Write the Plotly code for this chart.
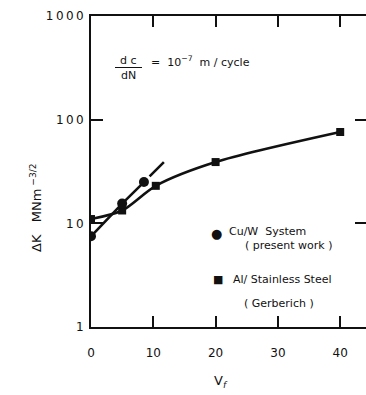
import plotly.graph_objects as go

# ---- data ----
cu_vf = [0, 5, 8.5]
cu_dk = [7.5, 15.5, 25]
cu_ext_vf = [8.5, 11.7]
cu_ext_dk = [25, 39]
al_vf = [0, 5, 10.4, 20, 40]
al_dk = [11, 13.3, 23, 39, 76]

x_tickvals = [0, 10, 20, 30, 40]
x_ticktext = ["0", "10", "20", "30", "40"]
y_tickvals = [1, 10, 100, 1000]
y_ticktext = ["1", "1\u20090", "1\u20090\u20090", "1\u20090\u20090\u20090"]

# ---- layout geometry (pixels) ----
W, H = 366, 395
PL, PT, PR, PB = 91, 16, 366, 327

def px(xp):
    return (xp - PL) / (PR - PL)

def py(yp):
    return (PB - yp) / (PB - PT)

FONT = "DejaVu Sans"
BLACK = "#111111"

fig = go.Figure()

fig.add_trace(go.Scatter(
    x=al_vf, y=al_dk, mode="lines+markers",
    line=dict(color=BLACK, width=2.6, shape="spline", smoothing=0.8),
    marker=dict(symbol="square", size=8, color=BLACK),
    showlegend=False, hoverinfo="skip"))
fig.add_trace(go.Scatter(
    x=cu_vf, y=cu_dk, mode="lines+markers",
    line=dict(color=BLACK, width=2.6),
    marker=dict(symbol="circle", size=10, color=BLACK),
    showlegend=False, hoverinfo="skip"))
fig.add_trace(go.Scatter(
    x=cu_ext_vf, y=cu_ext_dk, mode="lines",
    line=dict(color=BLACK, width=2.6, dash="0px,8px,60px"),
    showlegend=False, hoverinfo="skip"))
# invisible trace to carry the right-hand tick axis
fig.add_trace(go.Scatter(
    x=al_vf, y=al_dk, mode="lines", yaxis="y2",
    line=dict(width=0, color="rgba(0,0,0,0)"),
    showlegend=False, hoverinfo="skip"))

axis_font = dict(family=FONT, size=12, color=BLACK)

fig.update_layout(
    width=W, height=H,
    margin=dict(l=PL, r=W - PR, t=PT, b=H - PB, pad=0),
    paper_bgcolor="white", plot_bgcolor="white",
    font=dict(family=FONT, color=BLACK),
    xaxis=dict(
        range=[0, (PR - PL) / 6.23], tickvals=x_tickvals, ticktext=x_ticktext,
        ticks="inside", ticklen=11, tickwidth=1.5, tickcolor=BLACK,
        showline=True, linewidth=2, linecolor=BLACK, mirror="ticks",
        showgrid=False, zeroline=False, tickfont=axis_font,
        ticklabelstandoff=14),
    yaxis=dict(
        type="log", range=[0, 3], tickvals=y_tickvals, ticktext=y_ticktext,
        ticks="inside", ticklen=12, tickwidth=1.5, tickcolor=BLACK,
        showline=True, linewidth=2, linecolor=BLACK,
        showgrid=False, zeroline=False, tickfont=axis_font,
        ticklabelstandoff=3),
    yaxis2=dict(
        type="log", range=[0, 3], tickvals=[10, 100], overlaying="y",
        side="right", ticks="inside", ticklen=11, tickwidth=1.5,
        tickcolor=BLACK, showticklabels=False, showline=False,
        showgrid=False, zeroline=False),
)

ann = []
def add_text(text, xp, yp, size=11, xanchor="left", **kw):
    ann.append(dict(text=text, x=px(xp), y=py(yp), xref="paper", yref="paper",
                    xanchor=xanchor, yanchor="middle", showarrow=False,
                    font=dict(family=FONT, size=size, color=BLACK), **kw))

# dc/dN = 10^-7 m/cycle
add_text("d c", 128, 60, size=11, xanchor="center")
add_text("dN", 128, 75, size=11, xanchor="center")
add_text("=  10<sup>\u22127</sup>  m / cycle", 149, 62, size=11)
fig.add_shape(type="line", xref="paper", yref="paper",
              x0=px(115), x1=px(142), y0=py(67.5), y1=py(67.5),
              line=dict(color=BLACK, width=1))

# legend
add_text("\u25CF", 216, 233, size=13, xanchor="center")
add_text("Cu/W  System", 227, 232, size=11)
add_text("( present work )", 243, 246, size=11)
add_text("\u25A0", 218, 279, size=11, xanchor="center")
add_text("Al/ Stainless Steel", 231, 279, size=11)
add_text("( Gerberich )", 242, 303, size=11)

# axis titles
add_text("V<sub><i>f</i></sub>", 221, 381, size=13, xanchor="center")
ann.append(dict(text="\u0394K   MNm<sup> \u22123/2</sup>", x=px(36), y=py(208),
                xref="paper", yref="paper", xanchor="center", yanchor="middle",
                textangle=-90, showarrow=False,
                font=dict(family=FONT, size=13, color=BLACK)))

fig.update_layout(annotations=ann)
fig.write_html("out.html")
